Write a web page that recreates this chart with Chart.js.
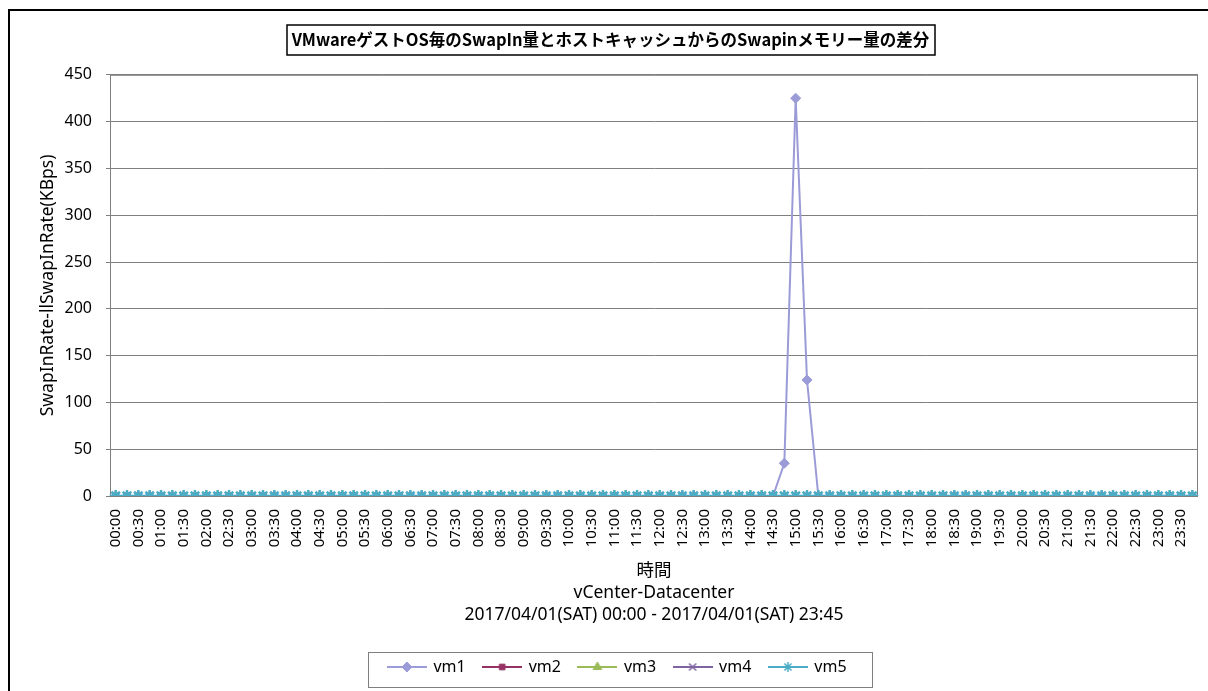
<!DOCTYPE html>
<html>
<head>
<meta charset="utf-8">
<script src="https://cdn.jsdelivr.net/npm/chart.js@4/dist/chart.umd.min.js"></script>
<style>
    html, body { margin: 0; padding: 0; background: #fff; }
    #wrap { width: 1208px; height: 691px; }
</style>
</head>
<body>
<div id="wrap"><canvas id="swapChart" width="1208" height="691"></canvas></div>
<script>
// 15分毎の時刻ラベル (00:00 - 23:45)
const timeLabels = [];
for (let h = 0; h < 24; h++) {
    for (let m = 0; m < 60; m += 15) {
        timeLabels.push(String(h).padStart(2, '0') + ':' + String(m).padStart(2, '0'));
    }
}

// 各VMの値 (1行 = 6時間分)
const vm1 = [
    0, 0, 0, 0, 0, 0, 0, 0, 0, 0, 0, 0, 0, 0, 0, 0, 0, 0, 0, 0, 0, 0, 0, 0,
    0, 0, 0, 0, 0, 0, 0, 0, 0, 0, 0, 0, 0, 0, 0, 0, 0, 0, 0, 0, 0, 0, 0, 0,
    0, 0, 0, 0, 0, 0, 0, 0, 0, 0, 0, 35, 425, 124, 0, 0, 0, 0, 0, 0, 0, 0, 0, 0,
    0, 0, 0, 0, 0, 0, 0, 0, 0, 0, 0, 0, 0, 0, 0, 0, 0, 0, 0, 0, 0, 0, 0, 0
];
const vm2 = [
    0, 0, 0, 0, 0, 0, 0, 0, 0, 0, 0, 0, 0, 0, 0, 0, 0, 0, 0, 0, 0, 0, 0, 0,
    0, 0, 0, 0, 0, 0, 0, 0, 0, 0, 0, 0, 0, 0, 0, 0, 0, 0, 0, 0, 0, 0, 0, 0,
    0, 0, 0, 0, 0, 0, 0, 0, 0, 0, 0, 0, 0, 0, 0, 0, 0, 0, 0, 0, 0, 0, 0, 0,
    0, 0, 0, 0, 0, 0, 0, 0, 0, 0, 0, 0, 0, 0, 0, 0, 0, 0, 0, 0, 0, 0, 0, 0
];
const vm3 = [
    0, 0, 0, 0, 0, 0, 0, 0, 0, 0, 0, 0, 0, 0, 0, 0, 0, 0, 0, 0, 0, 0, 0, 0,
    0, 0, 0, 0, 0, 0, 0, 0, 0, 0, 0, 0, 0, 0, 0, 0, 0, 0, 0, 0, 0, 0, 0, 0,
    0, 0, 0, 0, 0, 0, 0, 0, 0, 0, 0, 0, 0, 0, 0, 0, 0, 0, 0, 0, 0, 0, 0, 0,
    0, 0, 0, 0, 0, 0, 0, 0, 0, 0, 0, 0, 0, 0, 0, 0, 0, 0, 0, 0, 0, 0, 0, 0
];
const vm4 = [
    0, 0, 0, 0, 0, 0, 0, 0, 0, 0, 0, 0, 0, 0, 0, 0, 0, 0, 0, 0, 0, 0, 0, 0,
    0, 0, 0, 0, 0, 0, 0, 0, 0, 0, 0, 0, 0, 0, 0, 0, 0, 0, 0, 0, 0, 0, 0, 0,
    0, 0, 0, 0, 0, 0, 0, 0, 0, 0, 0, 0, 0, 0, 0, 0, 0, 0, 0, 0, 0, 0, 0, 0,
    0, 0, 0, 0, 0, 0, 0, 0, 0, 0, 0, 0, 0, 0, 0, 0, 0, 0, 0, 0, 0, 0, 0, 0
];
const vm5 = [
    0, 0, 0, 0, 0, 0, 0, 0, 0, 0, 0, 0, 0, 0, 0, 0, 0, 0, 0, 0, 0, 0, 0, 0,
    0, 0, 0, 0, 0, 0, 0, 0, 0, 0, 0, 0, 0, 0, 0, 0, 0, 0, 0, 0, 0, 0, 0, 0,
    0, 0, 0, 0, 0, 0, 0, 0, 0, 0, 0, 0, 0, 0, 0, 0, 0, 0, 0, 0, 0, 0, 0, 0,
    0, 0, 0, 0, 0, 0, 0, 0, 0, 0, 0, 0, 0, 0, 0, 0, 0, 0, 0, 0, 0, 0, 0, 0
];

const chartTitle = 'VMwareゲストOS毎のSwapIn量とホストキャッシュからのSwapinメモリー量の差分';
const yTitle = 'SwapInRate-llSwapInRate(KBps)';
const xTitle = ['時間', 'vCenter-Datacenter', '2017/04/01(SAT) 00:00 - 2017/04/01(SAT) 23:45'];

const FONT = "'Noto Sans', 'Noto Sans CJK JP', sans-serif";
const TITLE_FONT = "'Noto Sans CJK JP', 'Noto Sans', sans-serif";
const GRID = '#7f7f7f';
const LEGEND_PAD = 18;
const LEGEND_FONT = 16;

// 凡例用アイコン (線 + マーカー)
function makeLegendIcon(color, style, radius, bw) {
    const c = document.createElement('canvas');
    c.width = 40;
    c.height = 14;
    const g = c.getContext('2d');
    g.strokeStyle = color;
    g.lineWidth = 2;
    g.beginPath();
    g.moveTo(0, 7);
    g.lineTo(40, 7);
    g.stroke();
    g.fillStyle = color;
    g.lineWidth = bw;
    Chart.helpers.drawPoint(g, { pointStyle: style, radius: radius, rotation: 0, borderWidth: bw }, 20, 7);
    return c;
}

function series(label, data, color, style, radius, bw, order) {
    return {
        label: label,
        data: data,
        borderColor: color,
        backgroundColor: color,
        pointBackgroundColor: color,
        pointBorderColor: color,
        pointStyle: style,
        pointRadius: radius,
        pointBorderWidth: bw,
        borderWidth: 2,
        tension: 0,
        fill: false,
        order: order,
        legendIcon: makeLegendIcon(color, style, Math.min(radius, 5), Math.min(bw, 1.5))
    };
}

const datasets = [
    series('vm1', vm1, '#9B9BD7', 'rectRot', 5, 1, 5),
    series('vm2', vm2, '#953163', 'rect', 4, 1, 4),
    series('vm3', vm3, '#9BBB59', 'triangle', 5, 1, 3),
    series('vm4', vm4, '#8064A2', 'crossRot', 5, 1.5, 2),
    series('vm5', vm5, '#4BACC6', 'star', 6, 2.5, 1)
];

// タイトル・凡例の横位置補正
const shiftPlugin = {
    id: 'shift',
    afterLayout(chart) {
        const t = chart.titleBlock;
        t.left += 7;
        t.right += 7;
        const lg = chart.legend;
        lg.left += 14;
        lg.right += 14;
    }
};

// 背景・枠・タイトル枠・凡例枠
const framePlugin = {
    id: 'frame',
    beforeDraw(chart) {
        const ctx = chart.ctx;
        ctx.save();
        ctx.fillStyle = '#fff';
        ctx.fillRect(0, 0, chart.width, chart.height);
        ctx.restore();
    },
    beforeDatasetsDraw(chart) {
        const ctx = chart.ctx, a = chart.chartArea;
        ctx.save();
        ctx.strokeStyle = GRID;
        ctx.lineWidth = 1;
        ctx.strokeRect(a.left + 0.5, a.top + 0.5, a.right - a.left - 1, a.bottom - a.top);
        ctx.restore();
    },
    afterDraw(chart) {
        const ctx = chart.ctx;
        ctx.save();
        // 外枠
        ctx.strokeStyle = '#000';
        ctx.lineWidth = 2;
        ctx.strokeRect(9, 10, chart.width + 20, chart.height + 20);

        // タイトル枠
        const t = chart.titleBlock;
        ctx.font = 'bold 16.5px ' + TITLE_FONT;
        const tw = ctx.measureText(chartTitle).width;
        const cx = (t.left + t.right) / 2;
        const cy = t.top + 20 + 10;
        ctx.lineWidth = 1.5;
        ctx.strokeRect(Math.round(cx - tw / 2 - 5), Math.round(cy - 15), Math.round(tw + 10), 30);

        // 凡例枠
        const lg = chart.legend;
        if (lg && lg.lineWidths && lg.lineWidths.length) {
            const rowW = lg.lineWidths[0];
            const x0 = (lg.left + LEGEND_PAD + lg.right - rowW) / 2;
            const ly = lg.top + LEGEND_PAD + LEGEND_FONT * 0.6;
            ctx.strokeStyle = GRID;
            ctx.lineWidth = 1;
            ctx.strokeRect(Math.round(x0 - 20) + 0.5, Math.round(ly - 17) + 0.5,
                Math.round(rowW - LEGEND_PAD + 46), 35);
        }
        ctx.restore();
    }
};

new Chart(document.getElementById('swapChart').getContext('2d'), {
    type: 'line',
    data: {
        labels: timeLabels,
        datasets: datasets
    },
    options: {
        responsive: false,
        animation: false,
        events: [],
        layout: {
            padding: { top: 10, left: 9, right: 10, bottom: 6 }
        },
        plugins: {
            title: {
                display: true,
                text: chartTitle,
                color: '#000',
                font: { family: TITLE_FONT, size: 16.5, weight: 'bold', lineHeight: 1.2 },
                padding: { top: 20, bottom: 25 }
            },
            legend: {
                position: 'bottom',
                labels: {
                    usePointStyle: true,
                    pointStyleWidth: 37,
                    boxHeight: 14,
                    padding: LEGEND_PAD,
                    color: '#000',
                    font: { family: FONT, size: LEGEND_FONT },
                    sort: (a, b) => a.datasetIndex - b.datasetIndex,
                    generateLabels(chart) {
                        const items = Chart.defaults.plugins.legend.labels.generateLabels(chart);
                        items.forEach(it => {
                            it.pointStyle = chart.data.datasets[it.datasetIndex].legendIcon;
                        });
                        return items;
                    }
                }
            },
            tooltip: { enabled: false }
        },
        scales: {
            x: {
                type: 'category',
                offset: true,
                grid: { display: false, drawTicks: false },
                border: { display: false },
                ticks: {
                    autoSkip: false,
                    minRotation: 90,
                    maxRotation: 90,
                    padding: 13,
                    color: '#000',
                    font: { family: FONT, size: 15 },
                    callback: function(val, i) {
                        return i % 2 === 0 ? this.getLabelForValue(val) : '';
                    }
                },
                title: {
                    display: true,
                    text: xTitle,
                    color: '#000',
                    font: { family: FONT, size: 17.5, lineHeight: 1.257 },
                    padding: { top: 8, bottom: 15 }
                },
                afterFit(scale) {
                    scale.height = 145;
                    scale.paddingLeft = 0;
                    scale.paddingRight = 0;
                }
            },
            y: {
                min: 0,
                max: 450,
                ticks: {
                    stepSize: 50,
                    padding: 14,
                    color: '#000',
                    font: { family: FONT, size: 16 }
                },
                grid: {
                    color: GRID,
                    lineWidth: 1,
                    drawTicks: true,
                    tickLength: 4
                },
                border: { display: true, color: GRID },
                title: {
                    display: true,
                    text: yTitle,
                    color: '#000',
                    font: { family: FONT, size: 17.5, lineHeight: 1.2 },
                    padding: { top: 29, bottom: 4 }
                },
                afterFit(scale) {
                    scale.width = 101;
                }
            }
        }
    },
    plugins: [shiftPlugin, framePlugin]
});
</script>
</body>
</html>
